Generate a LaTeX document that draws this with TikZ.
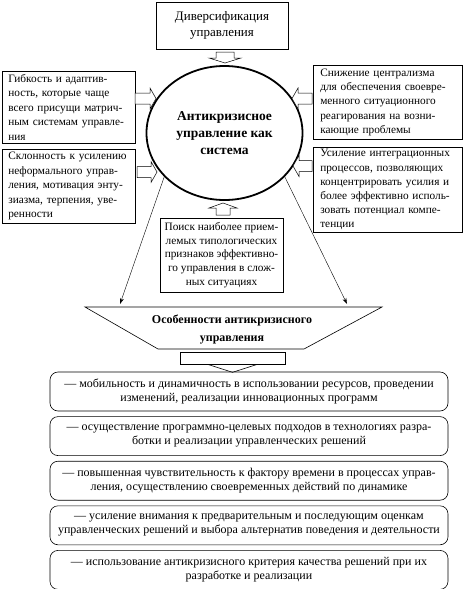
\documentclass[tikz,border=0pt]{standalone}
\usepackage{fontspec}
\setmainfont{Liberation Serif}
\usetikzlibrary{positioning,arrows.meta,shapes.geometric}

\begin{document}
\begin{tikzpicture}[x=1pt, y=-1pt,
  box/.style={draw, line width=0.6pt, inner ysep=2pt, anchor=north west, align=left, font=\fontsize{11.3}{14.2}\selectfont},
  topbox/.style={draw, line width=0.6pt, inner sep=2pt, align=center},
  item/.style={draw, line width=0.6pt, rounded corners=8pt, minimum width=398pt, minimum height=39pt, align=center, font=\fontsize{12}{14}\selectfont},
  blkarr/.style={draw, line width=0.5pt, fill=white},
  arr/.style={-{Stealth[length=6pt,width=4pt]}, line width=0.4pt}, node distance=5pt]
\useasboundingbox (0,0) rectangle (463,589);
\node[topbox, minimum width=132pt, minimum height=47pt, font=\fontsize{13}{16}\selectfont] (div) at (222,25.5) {Диверсификация\\управления};
\node[ellipse, draw, line width=1.8pt, minimum width=156pt, minimum height=134pt, inner sep=0pt, align=center, font=\fontsize{13.5}{17}\selectfont\bfseries] (acm) at (224.5,133) {Антикризисное\\управление как\\система};
\node[box, text width=121pt, inner xsep=6pt, minimum height=72pt, font=\fontsize{11.3}{14.5}\selectfont] (flex) at (2,71) {Гибкость и адаптив-\\ность, которые чаще\\всего присущи матрич-\\ным системам управле-\\ния};
\node[box, text width=121pt, inner xsep=6pt, minimum height=74pt, font=\fontsize{11.3}{14.5}\selectfont] (infm) at (2,149) {Склонность к усилению\\неформального управ-\\ления, мотивация энту-\\зиазма, терпения, уве-\\ренности};
\node[box, text width=135pt, inner xsep=7pt, minimum height=74pt] (cent) at (313,65) {Снижение централизма\\для обеспечения своевре-\\менного ситуационного\\реагирования на возни-\\кающие проблемы};
\node[box, text width=135pt, inner xsep=7pt, minimum height=85pt] (intg) at (313,147) {Усиление интеграционных\\процессов, позволяющих\\концентрировать усилия и\\более эффективно исполь-\\зовать потенциал компе-\\тенции};
\node[topbox, minimum width=123pt, minimum height=74pt, font=\fontsize{11.3}{13.8}\selectfont] (find) at (221.5,255) {Поиск наиболее прием-\\лемых типологических\\признаков эффективно-\\го управления в слож-\\ных ситуациях};
% block arrows into the circle
\draw[blkarr] (216,52) -- (234,52) -- (234,58) -- (241,58) -- (225,63) -- (209,58) -- (216,58) -- cycle;
\draw[blkarr] (135,93) -- (150,93) -- (150,88) -- (156,98.5) -- (150,109) -- (150,104) -- (135,104) -- cycle;
\draw[blkarr] (137,166.5) -- (151,166.5) -- (151,161.5) -- (157,172) -- (151,182.5) -- (151,177.5) -- (137,177.5) -- cycle;
\draw[blkarr] (312,93) -- (298,93) -- (298,88) -- (292,98.5) -- (298,109) -- (298,104) -- (312,104) -- cycle;
\draw[blkarr] (312,160.5) -- (299,160.5) -- (299,155.5) -- (293,166) -- (299,176.5) -- (299,171.5) -- (312,171.5) -- cycle;
\draw[blkarr] (216,215) -- (216,208) -- (209,208) -- (223,203) -- (237,208) -- (230,208) -- (230,215) -- cycle;
% features
\draw[line width=0.6pt] (85,307) -- (382,307) -- (304,349) -- (158,349) -- cycle;
\node[font=\fontsize{12}{18}\selectfont\bfseries, align=center] (feat) at (232,329) {Особенности антикризисного\\управления};
\coordinate (featL) at (120,304);
\coordinate (featR) at (347,304);
\draw[arr] (acm.216) -- (featL);
\draw[arr] (acm.324) -- (featR);
\node[draw, line width=0.6pt, minimum width=105pt, minimum height=12pt, inner sep=0pt] (bar) at (232.5,358) {};
\draw[line width=0.6pt] ([xshift=-25pt]bar.south) -- ([yshift=-8pt]bar.south) -- ([xshift=25pt]bar.south);
% list
\node[item] (i1) at (249,391.5) {— мобильность и динамичность в использовании ресурсов, проведении\\изменений, реализации инновационных программ};
\node[item, below=of i1] (i2) {— осуществление программно-целевых подходов в технологиях разра-\\ботки и реализации управленческих решений};
\node[item, below=of i2] (i3) {— повышенная чувствительность к фактору времени в процессах управ-\\ления, осуществлению своевременных действий по динамике};
\node[item, below=of i3] (i4) {— усиление внимания к предварительным и последующим оценкам\\управленческих решений и выбора альтернатив поведения и деятельности};
\node[item, below=of i4] (i5) {— использование антикризисного критерия качества решений при их\\разработке и реализации};
\end{tikzpicture}
\end{document}
